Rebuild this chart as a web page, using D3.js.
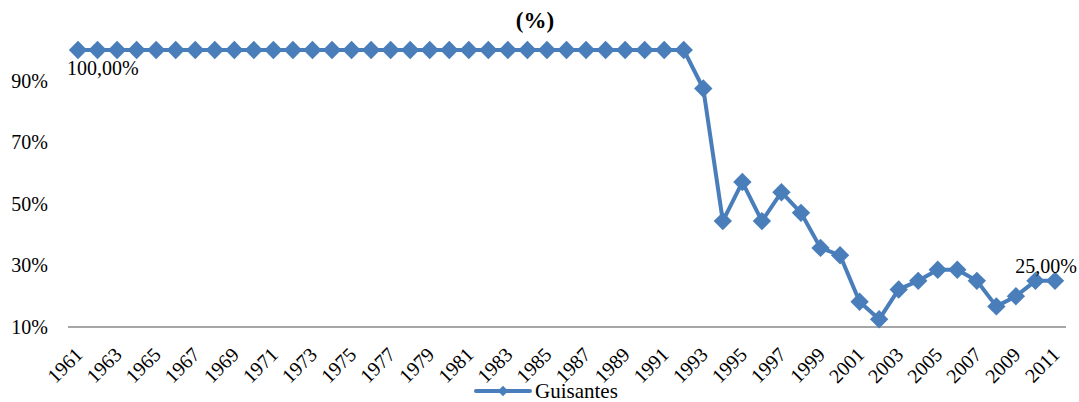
<!DOCTYPE html>
<html><head><meta charset="utf-8">
<script src="https://cdn.jsdelivr.net/npm/d3@7"></script>
<style>body{margin:0;background:#fff}svg{display:block}</style>
</head><body>
<script>
const years = d3.range(1961, 2012);
const values = [100,100,100,100,100,100,100,100,100,100,100,100,100,100,100,100,100,100,100,100,100,100,100,100,100,100,100,100,100,100,100,100,
  87.5,44.4,57.1,44.4,53.8,47.1,35.7,33.3,18.2,12.5,22.2,25.0,28.6,28.6,25.0,16.7,20.0,25.0,25.0];
const yTicks = [10,30,50,70,90];
const seriesName = "Guisantes";
const title = "(%)";

const FONT = "'Liberation Serif', 'Times New Roman', Times, 'DejaVu Serif', serif";
const W = 1079, H = 402;
const svg = d3.select("body").append("svg").attr("width", W).attr("height", H)
  .attr("font-family", FONT);
const x = d3.scalePoint().domain(years).range([78, 1055]);
const y = d3.scaleLinear().domain([10, 100]).range([327, 50]);
const color = "#4a7ebb";

svg.append("text").attr("x", 535).attr("y", 28).attr("text-anchor", "middle")
  .attr("font-family", FONT).attr("font-weight", "bold").attr("font-size", 23).text(title);

// y tick labels
svg.selectAll(".yt").data(yTicks).enter().append("text")
  .attr("x", 48).attr("y", d => y(d) + 7).attr("text-anchor", "end")
  .attr("font-family", FONT).attr("font-size", 20).text(d => d + "%");

// baseline
svg.append("line").attr("x1", 68).attr("x2", 1066).attr("y1", y(10)).attr("y2", y(10))
  .attr("stroke", "#898989").attr("stroke-width", 1.5);

// x labels
const xl = years.filter((d, i) => i % 2 === 0);
svg.selectAll(".xt").data(xl).enter().append("text")
  .attr("transform", d => `translate(${x(d) - 4},${y(10) + 19}) rotate(-45)`)
  .attr("text-anchor", "end").attr("dy", "0.7em")
  .attr("font-family", FONT).attr("font-size", 20).text(d => d);

// line
const line = d3.line().x((d, i) => x(years[i])).y(d => y(d));
svg.append("path").datum(values).attr("d", line).attr("fill", "none")
  .attr("stroke", color).attr("stroke-width", 4).attr("stroke-linejoin", "round");

const diamond = d3.symbol().type(d3.symbolDiamond2).size(215);
svg.selectAll(".pt").data(values).enter().append("path")
  .attr("d", diamond).attr("fill", color)
  .attr("transform", (d, i) => `translate(${x(years[i])},${y(d)})`);

// data labels
svg.append("text").attr("x", 67).attr("y", 75).attr("font-family", FONT).attr("font-size", 20).text("100,00%");
svg.append("text").attr("x", 1077).attr("y", 273).attr("text-anchor", "end").attr("font-family", FONT).attr("font-size", 20).text("25,00%");

// legend
svg.append("line").attr("x1", 476).attr("x2", 530).attr("y1", 391).attr("y2", 391)
  .attr("stroke", color).attr("stroke-width", 4).attr("stroke-linecap", "round");
svg.append("path").attr("d", d3.symbol().type(d3.symbolDiamond2).size(70)).attr("fill", color)
  .attr("transform", "translate(503,391)");
svg.append("text").attr("x", 535).attr("y", 398).attr("font-family", FONT).attr("font-size", 21).text(seriesName);
</script>
</body></html>
